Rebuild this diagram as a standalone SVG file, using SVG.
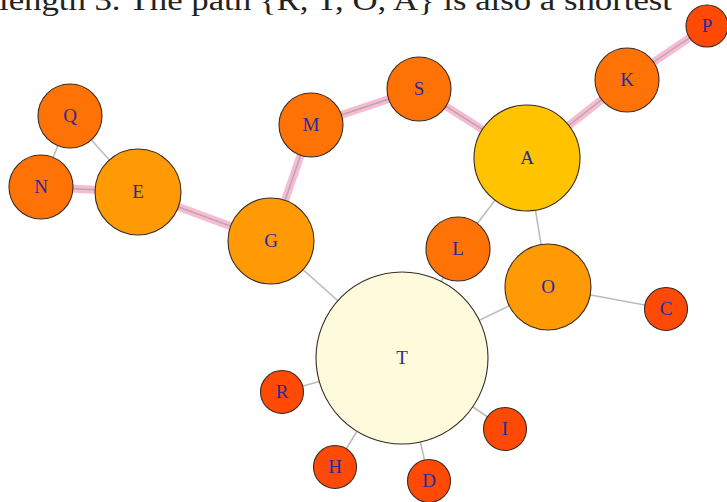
<svg xmlns="http://www.w3.org/2000/svg" width="727" height="502" viewBox="0 0 727 502">
<style>
.hl{stroke:#F8BBD2;stroke-width:8;stroke-linecap:butt}
.ed{stroke:#BDBDBD;stroke-width:1.6}
.edh{stroke:#B5A9AF;stroke-width:1.5}
.n circle{stroke:#3a2a22;stroke-width:1.1}
.n text{font-family:"Liberation Serif","Times New Roman",serif;font-size:19px;fill:#2a2a9c;text-anchor:middle}
.d1{fill:#FF4A05}
.d2{fill:#FF7205}
.d3{fill:#FF9A05}
.d4{fill:#FFC300}
.d7{fill:#FEFADC}
.cap{font-family:"Liberation Serif","Times New Roman",serif;font-size:29px;fill:#222}
</style>
<rect width="727" height="502" fill="#ffffff"/>
<text class="cap" x="-1" y="10" textLength="673" lengthAdjust="spacingAndGlyphs">length 3. The path {R, T, O, A} is also a shortest</text>
<g id="connectors">
<g id="highlight">
<line class="hl" x1="41" y1="187" x2="138" y2="192"/>
<line class="hl" x1="138" y1="192" x2="271" y2="241"/>
<line class="hl" x1="271" y1="241" x2="311" y2="125"/>
<line class="hl" x1="311" y1="125" x2="419" y2="89"/>
<line class="hl" x1="419" y1="89" x2="527" y2="158"/>
<line class="hl" x1="527" y1="158" x2="627" y2="80"/>
<line class="hl" x1="627" y1="80" x2="707" y2="26"/>
</g>
<line class="edh" x1="41" y1="187" x2="138" y2="192"/>
<line class="edh" x1="138" y1="192" x2="271" y2="241"/>
<line class="edh" x1="271" y1="241" x2="311" y2="125"/>
<line class="edh" x1="311" y1="125" x2="419" y2="89"/>
<line class="edh" x1="419" y1="89" x2="527" y2="158"/>
<line class="edh" x1="527" y1="158" x2="627" y2="80"/>
<line class="edh" x1="627" y1="80" x2="707" y2="26"/>
<line class="ed" x1="70" y1="116" x2="41" y2="187"/>
<line class="ed" x1="70" y1="116" x2="138" y2="192"/>
<line class="ed" x1="527" y1="158" x2="458" y2="249"/>
<line class="ed" x1="527" y1="158" x2="548" y2="287"/>
<line class="ed" x1="548" y1="287" x2="666" y2="309"/>
<line class="ed" x1="548" y1="287" x2="402" y2="358"/>
<line class="ed" x1="271" y1="241" x2="402" y2="358"/>
<line class="ed" x1="458" y1="249" x2="402" y2="358"/>
<line class="ed" x1="402" y1="358" x2="282" y2="392"/>
<line class="ed" x1="402" y1="358" x2="335" y2="467"/>
<line class="ed" x1="402" y1="358" x2="429" y2="481"/>
<line class="ed" x1="402" y1="358" x2="505" y2="429"/>
</g>
<g id="node-P" class="n"><circle class="d1" cx="707" cy="26" r="21"/><text x="707" y="32">P</text></g>
<g id="node-K" class="n"><circle class="d2" cx="627" cy="80" r="32"/><text x="627" y="86">K</text></g>
<g id="node-S" class="n"><circle class="d2" cx="419" cy="89" r="32"/><text x="419" y="95">S</text></g>
<g id="node-M" class="n"><circle class="d2" cx="311" cy="125" r="32"/><text x="311" y="131">M</text></g>
<g id="node-Q" class="n"><circle class="d2" cx="70" cy="116" r="32"/><text x="70" y="122">Q</text></g>
<g id="node-N" class="n"><circle class="d2" cx="41" cy="187" r="32"/><text x="41" y="193">N</text></g>
<g id="node-E" class="n"><circle class="d3" cx="138" cy="192" r="43"/><text x="138" y="198">E</text></g>
<g id="node-G" class="n"><circle class="d3" cx="271" cy="241" r="43"/><text x="271" y="247">G</text></g>
<g id="node-A" class="n"><circle class="d4" cx="527" cy="158" r="53"/><text x="527" y="164">A</text></g>
<g id="node-L" class="n"><circle class="d2" cx="458" cy="249" r="32"/><text x="458" y="255">L</text></g>
<g id="node-O" class="n"><circle class="d3" cx="548" cy="287" r="43"/><text x="548" y="293">O</text></g>
<g id="node-C" class="n"><circle class="d1" cx="666" cy="309" r="21.5"/><text x="666" y="315">C</text></g>
<g id="node-T" class="n"><circle class="d7" cx="402" cy="358" r="86"/><text x="402" y="364">T</text></g>
<g id="node-R" class="n"><circle class="d1" cx="282" cy="392" r="21.5"/><text x="282" y="398">R</text></g>
<g id="node-I" class="n"><circle class="d1" cx="505" cy="429" r="21.5"/><text x="505" y="435">I</text></g>
<g id="node-H" class="n"><circle class="d1" cx="335" cy="467" r="21.5"/><text x="335" y="473">H</text></g>
<g id="node-D" class="n"><circle class="d1" cx="429" cy="481" r="21.5"/><text x="429" y="487">D</text></g>
</svg>
